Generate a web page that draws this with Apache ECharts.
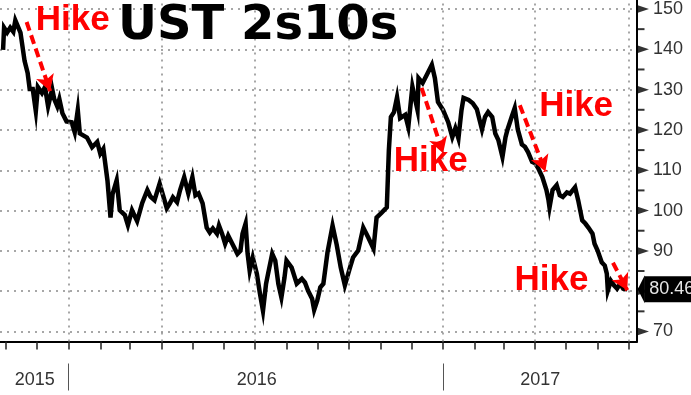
<!DOCTYPE html>
<html><head><meta charset="utf-8">
<script src="https://cdn.jsdelivr.net/npm/echarts@6/dist/echarts.min.js"></script>
<style>html,body{margin:0;padding:0;background:#fff}#c{width:691px;height:395px}</style>
</head><body><div id="c"></div>
<script>
// ---- data ----
const dates = ['2015-10-29','2015-10-30','2015-11-02','2015-11-05','2015-11-08','2015-11-10','2015-11-15','2015-11-19','2015-11-22','2015-11-24','2015-11-27','2015-11-30','2015-12-02','2015-12-06','2015-12-09','2015-12-12','2015-12-16','2015-12-18','2015-12-21','2015-12-23','2015-12-26','2015-12-30','2016-01-04','2016-01-07','2016-01-10','2016-01-12','2016-01-19','2016-01-24','2016-01-29','2016-02-01','2016-02-04','2016-02-08','2016-02-11','2016-02-13','2016-02-17','2016-02-20','2016-02-25','2016-02-28','2016-03-03','2016-03-08','2016-03-13','2016-03-18','2016-03-21','2016-03-25','2016-03-30','2016-04-02','2016-04-06','2016-04-09','2016-04-12','2016-04-16','2016-04-19','2016-04-23','2016-04-27','2016-05-01','2016-05-04','2016-05-07','2016-05-11','2016-05-15','2016-05-18','2016-05-21','2016-05-25','2016-05-27','2016-05-30','2016-06-02','2016-06-05','2016-06-09','2016-06-14','2016-06-17','2016-06-19','2016-06-22','2016-06-24','2016-06-26','2016-06-29','2016-07-03','2016-07-06','2016-07-09','2016-07-12','2016-07-14','2016-07-18','2016-07-21','2016-07-24','2016-07-27','2016-07-30','2016-08-01','2016-08-06','2016-08-11','2016-08-16','2016-08-19','2016-08-22','2016-08-26','2016-08-28','2016-08-31','2016-09-03','2016-09-06','2016-09-10','2016-09-15','2016-09-19','2016-09-23','2016-09-27','2016-10-02','2016-10-05','2016-10-10','2016-10-15','2016-10-20','2016-10-25','2016-10-28','2016-11-02','2016-11-07','2016-11-09','2016-11-11','2016-11-14','2016-11-17','2016-11-20','2016-11-25','2016-11-28','2016-12-02','2016-12-07','2016-12-08','2016-12-12','2016-12-16','2016-12-21','2016-12-24','2016-12-27','2017-01-01','2017-01-06','2017-01-10','2017-01-13','2017-01-16','2017-01-19','2017-01-21','2017-01-26','2017-01-30','2017-02-03','2017-02-08','2017-02-11','2017-02-14','2017-02-18','2017-02-21','2017-02-24','2017-02-28','2017-03-03','2017-03-05','2017-03-09','2017-03-12','2017-03-15','2017-03-19','2017-03-22','2017-03-25','2017-03-29','2017-04-01','2017-04-04','2017-04-08','2017-04-12','2017-04-14','2017-04-15','2017-04-18','2017-04-22','2017-04-25','2017-04-28','2017-05-02','2017-05-05','2017-05-10','2017-05-13','2017-05-17','2017-05-20','2017-05-23','2017-05-27','2017-05-29','2017-06-01','2017-06-05','2017-06-08','2017-06-10','2017-06-11','2017-06-14','2017-06-17','2017-06-20','2017-06-23','2017-06-26','2017-06-30'];
const spread2s10s = [139.7,145.2,144,145.2,144.2,147,144,137,134,130,130,124.5,130.5,129,130.5,125.7,130,127.5,125.7,127.5,124,122,121.8,119.3,124.8,119,118,115.6,116.9,114,115.2,107.4,98.2,104,107.4,100,98.8,96.3,100,97.3,101.8,105,103.4,102.5,106.6,104,100.5,101.7,103.2,102,105,108.2,104.2,108.2,103.7,104.2,101.7,95.7,94.5,95.5,94.2,96.2,94.2,91.7,93.7,91.7,89.2,90,94.2,96.7,89.2,85,88.3,84.3,79.4,75.1,81.8,84.3,89.2,87.5,81.8,78.4,83.3,87.5,85.8,81.8,83,82.1,80.1,78.1,75.3,77.6,80.9,81.8,89.5,96.2,91.5,85.8,81.4,85.8,88.3,90,95.7,93.2,90.5,98.2,99.4,100.7,114.8,123.1,124.3,128,122.8,123.6,120.6,130.6,124.8,132.7,131.5,133.5,136,132.7,126.8,124.8,121.8,118.1,120.3,117.8,124.8,127.8,127.3,126.5,125,120,123.1,124.3,123.1,119,117.4,113.2,118.1,120,123.1,125.3,120,116.3,115.7,114.4,112,111.6,110.4,108.2,105,102.5,100.7,105,106.2,103.7,103.3,104.4,104.1,105.7,102.5,97.5,96.7,95.7,94.2,91.7,90,87.1,86.3,84.3,80.1,82.5,81.4,80.6,81.8,80.6,80.46];

const yTickValues = [70, 80, 90, 100, 110, 120, 130, 140, 150];
const yMinorTickValues = [75, 85, 95, 105, 115, 125, 135, 145];
const yearLabels = ['2015', '2016', '2017'];
const yearLabelDates = ['2015-11-29', '2016-07-03', '2017-04-06'];
const yearStartDates = ['2016-01-01', '2017-01-01'];
const quarterDates = ['2016-01-01','2016-04-01','2016-07-01','2016-10-01','2017-01-01','2017-04-01','2017-07-01'];
const monthTickDates = ['2015-11-01','2015-12-01','2016-01-01','2016-02-01','2016-03-01','2016-04-01','2016-05-01','2016-06-01','2016-07-01','2016-08-01','2016-09-01','2016-10-01','2016-11-01','2016-12-01','2017-01-01','2017-02-01','2017-03-01','2017-04-01','2017-05-01','2017-06-01','2017-07-01'];

// Hike annotations: arrow start / end and label anchors
const hikeArrowStart = [['2015-11-21', 146.6], ['2016-12-11', 130.3], ['2017-03-17', 126.0], ['2017-06-16', 87.0]];
const hikeArrowEnd   = [['2015-12-14', 129.5], ['2017-01-01', 114.1], ['2017-04-11', 109.6], ['2017-06-30', 80.2]];
const hikeLabelAt    = [['2016-01-05', 146.9], ['2016-12-20', 112.1], ['2017-05-11', 125.8], ['2017-04-17', 82.6]];
const hikeText = 'Hike';
const titleText = 'UST 2s10s';

// ---- helpers ----
const ts = s => new Date(s + 'T00:00:00').getTime();
const xMin = new Date(2015, 9, 26, 0).getTime();
const xMax = new Date(2017, 6, 9, 12).getTime();
const lineData = dates.map((d, i) => [ts(d), spread2s10s[i]]);
const lastPoint = lineData[lineData.length - 1];
const GRID_LINE = { color: '#8a8a8a', type: [2, 5], width: 1.5 };
const yearLabelTs = yearLabelDates.map(ts);

const chart = echarts.init(document.getElementById('c'), null, { renderer: 'canvas' });
chart.setOption({
  animation: false,
  backgroundColor: '#fff',
  grid: [
    { left: 0, right: 54, top: 0, bottom: 53.5 },
    { left: 0, right: 54, top: 8.3, bottom: 63.5 }
  ],
  xAxis: [
    { type: 'value', gridIndex: 0, min: xMin, max: xMax,
      axisLine: { show: true, onZero: false, lineStyle: { color: '#000', width: 2 } },
      axisTick: { show: true, customValues: monthTickDates.map(ts), length: 8, lineStyle: { color: '#222', width: 1.5 } },
      minorTick: { show: false },
      axisLabel: { show: false }, splitLine: { show: false } },
    { type: 'value', gridIndex: 0, min: xMin, max: xMax, position: 'bottom', offset: 22,
      axisLine: { show: false, onZero: false },
      axisTick: { show: true, customValues: yearStartDates.map(ts), length: 27, lineStyle: { color: '#555', width: 1 } },
      minorTick: { show: false },
      axisLabel: { show: true, customValues: yearLabelTs, margin: 8, color: '#333', fontSize: 18, fontFamily: 'Liberation Sans',
        formatter: v => { const i = yearLabelTs.indexOf(v); return i >= 0 ? yearLabels[i] : ''; } },
      splitLine: { show: false } },
    { type: 'value', gridIndex: 1, min: 0, max: 1, show: false,
      axisLine: { show: false, onZero: false }, axisTick: { show: false }, axisLabel: { show: false },
      splitLine: { show: false }, minorTick: { show: false } }
  ],
  yAxis: [
    { type: 'value', gridIndex: 0, position: 'right', min: 67.5, max: 152.05,
      axisLine: { show: true, onZero: false, lineStyle: { color: '#000', width: 2 } },
      axisTick: { show: false }, minorTick: { show: false }, axisLabel: { show: false }, splitLine: { show: false } },
    { type: 'value', gridIndex: 1, position: 'right', min: 70, max: 150, interval: 10,
      axisLine: { show: false, onZero: false }, axisTick: { show: false }, minorTick: { show: false },
      axisLabel: { show: true, margin: 16, color: '#333', fontSize: 18, fontFamily: 'Liberation Sans' },
      splitLine: { show: true, lineStyle: GRID_LINE } }
  ],
  graphic: [
    { type: 'text', left: 118, top: 3, z: 100,
      style: { text: titleText, fontSize: 48, fontWeight: 'bold', fontFamily: 'DejaVu Sans', fill: '#000' } }
  ],
  series: [
    { type: 'line', xAxisIndex: 0, yAxisIndex: 0, data: [], z: 1, silent: true, showSymbol: false,
      markLine: { silent: true, symbol: ['none', 'none'], label: { show: false },
        lineStyle: GRID_LINE, data: quarterDates.map(d => ({ xAxis: ts(d) })) } },
    { type: 'scatter', xAxisIndex: 2, yAxisIndex: 1, silent: true, clip: false, z: 5,
      data: yTickValues.map(v => [1, v]), symbol: 'triangle', symbolRotate: -90,
      symbolSize: [8, 12], symbolOffset: [6, 0], itemStyle: { color: '#000' } },
    { type: 'scatter', xAxisIndex: 2, yAxisIndex: 1, silent: true, clip: false, z: 5,
      data: yMinorTickValues.map(v => [1, v]), symbol: 'rect',
      symbolSize: [7, 2], symbolOffset: [4, 0], itemStyle: { color: '#000' } },
    { type: 'line', xAxisIndex: 0, yAxisIndex: 0, data: lineData, z: 3,
      symbol: 'none', lineStyle: { color: '#000', width: 4.5, join: 'miter' }, silent: true,
      endLabel: { show: true, formatter: p => p.value[1].toFixed(2), distance: 17,
        backgroundColor: '#000', color: '#e6e6e6', fontSize: 18, fontFamily: 'Liberation Sans',
        padding: [4, 8, 4, 5] },
      markPoint: { silent: true, data: [
          { coord: lastPoint, symbol: 'triangle', symbolRotate: 90, symbolSize: [28, 7], symbolOffset: [14, 0],
            itemStyle: { color: '#000' }, label: { show: false } }
        ].concat(hikeLabelAt.map(c => ({ coord: [ts(c[0]), c[1]], symbol: 'rect', symbolSize: 1,
            itemStyle: { color: 'rgba(0,0,0,0)' },
            label: { show: true, position: 'inside', formatter: hikeText, color: '#ff0000', fontSize: 35,
              fontWeight: 'bold', fontFamily: 'Liberation Sans' } }))) },
      markLine: { silent: true, symbol: ['none', 'arrow'], symbolSize: [14, 16], label: { show: false },
        lineStyle: { color: '#ff0000', width: 4, type: [9, 5] },
        data: hikeArrowStart.map((s, i) => [{ coord: [ts(s[0]), s[1]] }, { coord: [ts(hikeArrowEnd[i][0]), hikeArrowEnd[i][1]] }]) } }
  ]
});
</script></body></html>
